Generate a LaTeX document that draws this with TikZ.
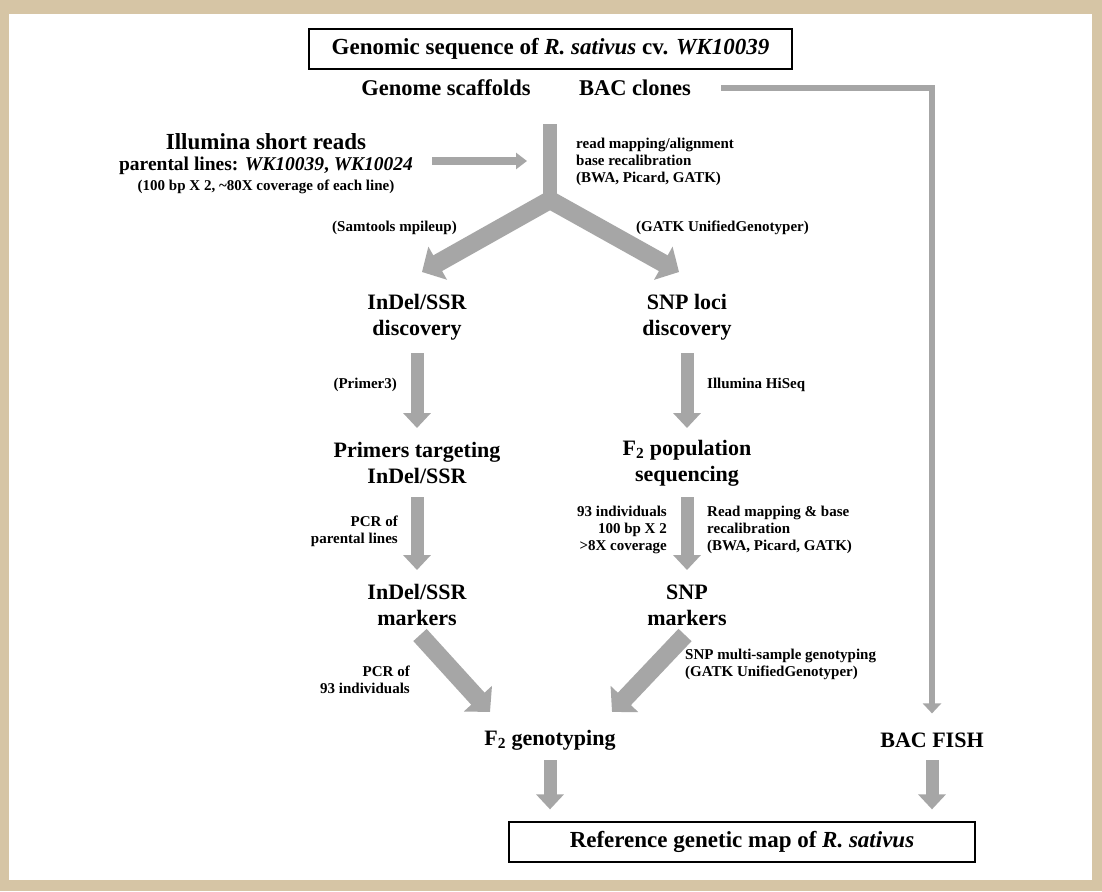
\documentclass[tikz,border=0pt]{standalone}
\usepackage{fontspec}
\setmainfont{Liberation Serif}
\usepackage{xcolor}
\usetikzlibrary{arrows.meta}

\definecolor{framecol}{RGB}{214,197,165}
\definecolor{arrowgray}{RGB}{166,166,166}

\tikzset{
  bigtxt/.style={font=\fontsize{22}{26}\selectfont\bfseries, align=center, inner sep=0pt},
  smalltxt/.style={font=\fontsize{15}{17}\selectfont\bfseries, inner sep=0pt},
  boxtxt/.style={draw, line width=1.3pt, font=\fontsize{23}{26}\selectfont\bfseries, inner sep=0pt, minimum height=40pt},
  downarrow/.style={arrowgray, line width=13pt, -{Triangle[length=15pt,width=27pt]}},
  fatarrow/.style={arrowgray, line width=18pt, -{Triangle[length=18pt,width=37pt]}},
  thinarrow/.style={arrowgray, line width=6pt, -{Triangle[length=10pt,width=18pt]}},
}

\begin{document}
\begin{tikzpicture}[x=1pt,y=-1pt]
% frame
\useasboundingbox (0,0) rectangle (1102,891);
\fill[framecol] (0,0) rectangle (1102,891);
\fill[white] (9,14) rectangle (1092,880);

% boxes and labels
\node[boxtxt, minimum width=483pt] (genome) at (550.5,49) {Genomic sequence of \textit{R. sativus} cv. \textit{WK10039}};
\node[bigtxt, font=\fontsize{22.5}{26}\selectfont\bfseries] (scaf) at (446,88) {Genome scaffolds};
\node[bigtxt, font=\fontsize{22.5}{26}\selectfont\bfseries] (bac) at (635,88) {BAC clones};
\node[bigtxt, font=\fontsize{23}{26}\selectfont\bfseries] (illu) at (266,142) {Illumina short reads};
\node[bigtxt, font=\fontsize{19.5}{22}\selectfont\bfseries] (par) at (266,166) {parental lines: \textit{WK10039}, \textit{WK10024}};
\node[bigtxt, font=\fontsize{15}{18}\selectfont\bfseries] (cov) at (266,187) {(100 bp X 2, \textasciitilde80X coverage of each line)};
\node[smalltxt, align=left, anchor=west] (mapl) at (576,162) {read mapping/alignment\\base recalibration\\(BWA, Picard, GATK)};
\node[smalltxt, anchor=east] (saml) at (457,228) {(Samtools mpileup)};
\node[smalltxt, anchor=west] (gatkl) at (636,228) {(GATK UnifiedGenotyper)};

\node[bigtxt] (indel) at (417,317) {InDel/SSR\\discovery};
\node[bigtxt] (snploci) at (687,317) {SNP loci\\discovery};
\node[smalltxt, anchor=east] (priml) at (397,385) {(Primer3)};
\node[smalltxt, anchor=west] (hiseql) at (707,385) {Illumina HiSeq};

\node[bigtxt] (primers) at (417,463) {Primers targeting\\InDel/SSR};
\node[bigtxt] (f2pop) at (687,463) {F\textsubscript{2} population\\sequencing};
\node[smalltxt, align=right, anchor=east] (pcrl) at (398,531) {PCR of\\parental lines};
\node[smalltxt, align=right, anchor=east] (indl) at (667,530) {93 individuals\\100 bp X 2\\>8X coverage};
\node[smalltxt, align=left, anchor=west] (readl) at (707,530) {Read mapping \& base\\recalibration\\(BWA, Picard, GATK)};

\node[bigtxt] (indelm) at (417,605) {InDel/SSR\\markers};
\node[bigtxt] (snpm) at (687,605) {SNP\\markers};
\node[smalltxt, align=right, anchor=east] (pcr93l) at (410,680) {PCR of\\93 individuals};
\node[smalltxt, align=left, anchor=west] (multil) at (685,664) {SNP multi-sample genotyping\\(GATK UnifiedGenotyper)};

\node[bigtxt] (f2gen) at (550,740) {F\textsubscript{2} genotyping};
\node[bigtxt] (bacfish) at (932,740) {BAC FISH};
\node[boxtxt, minimum width=466pt] (refmap) at (742,842) {Reference genetic map of \textit{R. sativus}};

% junction points
\coordinate (jin) at (527,161);
\coordinate (jtop) at (550,124);
\coordinate (jn) at (550,200);
\coordinate (tipL) at (422,272);
\coordinate (tipR) at (679,272);

% arrows
\draw[arrowgray, line width=8pt, -{Triangle[length=11pt,width=16pt]}] ([xshift=19pt]par.east |- jin) -- (jin);
\draw[arrowgray, line width=14pt] (jtop) -- (jn);
\draw[fatarrow, shorten <=-5pt] (jn) -- (tipL);
\draw[fatarrow, shorten <=-5pt] (jn) -- (tipR);
\draw[thinarrow, shorten >=19pt] ([xshift=30pt]bac.east) -| (bacfish.north);

\draw[downarrow] (indel.center |- 0,353) -- (primers.center |- 0,428);
\draw[downarrow] (snploci.center |- 0,353) -- (f2pop.center |- 0,428);
\draw[downarrow] (primers.center |- 0,497) -- (indelm.center |- 0,570);
\draw[downarrow] (f2pop.center |- 0,497) -- (snpm.center |- 0,570);

\draw[fatarrow] (420,635) -- (490,712);
\draw[fatarrow] (685,635) -- (612,712);
\draw[downarrow, shorten >=12pt] (f2gen.center |- 0,760) -- (refmap.north -| f2gen.center);
\draw[downarrow, shorten >=12pt] (bacfish.center |- 0,760) -- (refmap.north -| bacfish.center);
\end{tikzpicture}
\end{document}
